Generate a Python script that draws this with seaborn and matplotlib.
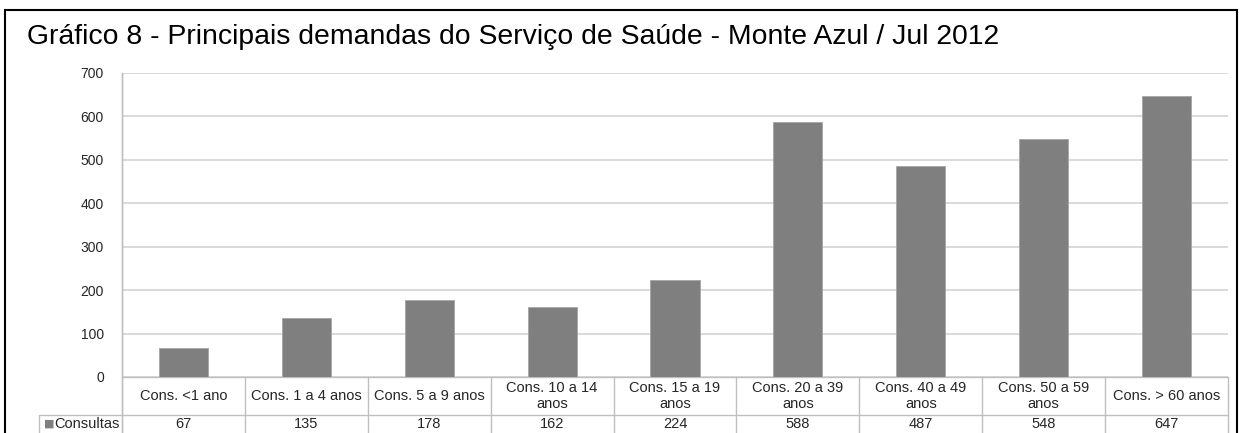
import matplotlib
matplotlib.use("Agg")
import matplotlib.pyplot as plt
import matplotlib.transforms as mtransforms
from matplotlib.patches import Rectangle
import seaborn as sns
import pandas as pd

# data
categories = ["Cons. <1 ano", "Cons. 1 a 4 anos", "Cons. 5 a 9 anos",
              "Cons. 10 a 14\nanos", "Cons. 15 a 19\nanos", "Cons. 20 a 39\nanos",
              "Cons. 40 a 49\nanos", "Cons. 50 a 59\nanos", "Cons. > 60 anos"]
consultas = [67, 135, 178, 162, 224, 588, 487, 548, 647]
series_name = "Consultas"
title = "Gráfico 8 - Principais demandas do Serviço de Saúde - Monte Azul / Jul 2012"
y_ticks = [0, 100, 200, 300, 400, 500, 600, 700]

sns.set_style("white")
plt.rcParams['font.family'] = ['Liberation Sans', 'DejaVu Sans']

W, H = 1241, 433
fig = plt.figure(figsize=(W / 100, H / 100), dpi=100)

# axes box in pixels: left 122, right 1228, top 73, bottom 377
left, right, top, bottom = 122, 1228, 73, 377
ax = fig.add_axes([left / W, 1 - bottom / H, (right - left) / W, (bottom - top) / H])

df = pd.DataFrame({"cat": categories, "val": consultas})
sns.barplot(data=df, x="cat", y="val", color="#7f7f7f", width=0.4,
            edgecolor="#a6a6a6", linewidth=0.6, saturation=1, ax=ax, zorder=3)

grid_c = "#d9d9d9"
line_c = "#bfbfbf"
txt_c = "#262626"
fs = 10.5
ax.set_xlim(-0.5, len(categories) - 0.5)
ax.set_ylim(0, 700)
ax.set_yticks(y_ticks)
ax.set_yticklabels([str(t) for t in y_ticks], fontsize=10, color=txt_c)
ax.tick_params(axis="y", length=4, width=1.2, color=grid_c, pad=9)
ax.set_xticks([])
ax.set_xlabel("")
ax.set_ylabel("")
ax.yaxis.grid(True, color=grid_c, linewidth=1.4, zorder=0)
ax.set_axisbelow(True)
for s in ["top", "right"]:
    ax.spines[s].set_visible(False)
ax.spines["left"].set_color(line_c)
ax.spines["bottom"].set_color(line_c)
ax.spines["left"].set_linewidth(1.0)
ax.spines["bottom"].set_linewidth(1.0)

# data table under the axis
ax_h = bottom - top
ax_w = right - left
row1 = -(415 - bottom) / ax_h
row_bottom = -(H + 5 - bottom) / ax_h
val_y = -(424 - bottom) / ax_h
trans = mtransforms.blended_transform_factory(ax.transData, ax.transAxes)
for i, (cat, v) in enumerate(zip(categories, consultas)):
    ax.text(i, row1 / 2, cat, transform=trans, ha="center", va="center",
            fontsize=fs, color=txt_c, linespacing=1.15, clip_on=False)
    ax.text(i, val_y, str(v), transform=trans, ha="center",
            va="center", fontsize=fs, color=txt_c, clip_on=False)
for i in range(len(categories) + 1):
    ax.plot([i - 0.5, i - 0.5], [0, row_bottom], transform=trans,
            color=line_c, lw=1.0, clip_on=False)
lab_left = -(left - 39) / ax_w
ax.plot([lab_left, 1], [row1, row1], transform=ax.transAxes,
        color=line_c, lw=1.0, clip_on=False)
ax.plot([lab_left, lab_left], [row1, row_bottom], transform=ax.transAxes,
        color=line_c, lw=1.0, clip_on=False)
ax.plot([0, 0], [1, row_bottom], transform=ax.transAxes,
        color=line_c, lw=1.0, clip_on=False)
ax.text(-(left - 44) / ax_w, val_y, "■", transform=ax.transAxes,
        ha="left", va="center", fontsize=8, color="#7f7f7f",
        family=['DejaVu Sans'], clip_on=False)
ax.text(-(left - 120) / ax_w, val_y, series_name, transform=ax.transAxes,
        ha="right", va="center", fontsize=fs, color=txt_c, clip_on=False)

# title and outer frame
fig.text(27 / W, 1 - 37 / H, title, ha="left", va="center", fontsize=20.4, color="black")
fig.patches.append(Rectangle((5 / W, -0.05), (1237 - 5) / W, 1.05 - 10 / H,
                             transform=fig.transFigure, fill=False,
                             edgecolor="black", linewidth=1.5))

fig.savefig("out.png", dpi=100)
